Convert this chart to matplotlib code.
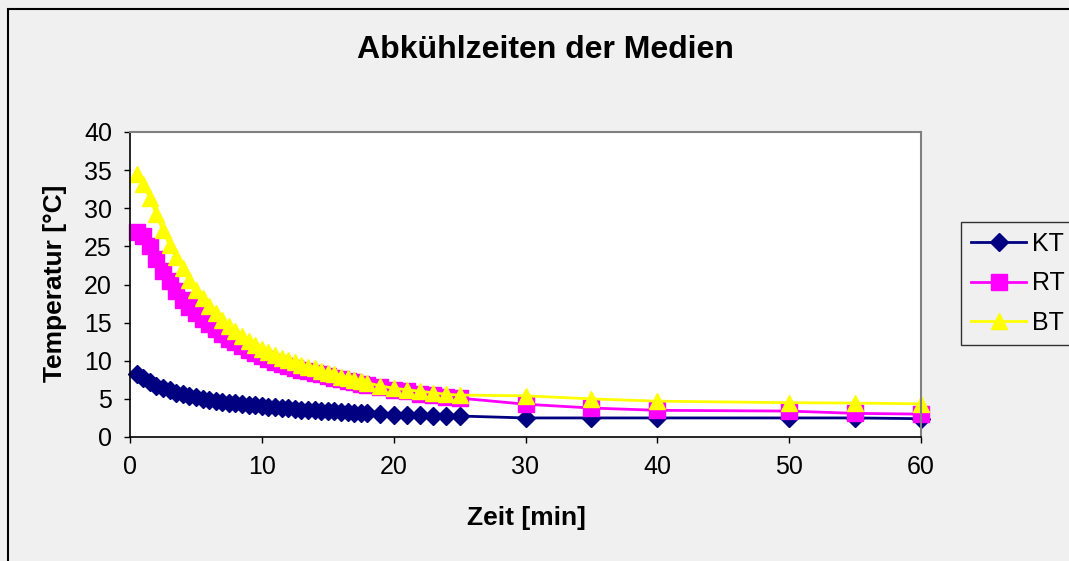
import numpy as np
import matplotlib.pyplot as plt
from matplotlib.patches import Rectangle

# time points [min]
zeit = [0.5, 1, 1.5, 2, 2.5, 3, 3.5, 4, 4.5, 5, 5.5, 6, 6.5, 7, 7.5, 8, 8.5, 9,
        9.5, 10, 10.5, 11, 11.5, 12, 12.5, 13, 13.5, 14, 14.5, 15, 15.5, 16,
        16.5, 17, 17.5, 18, 19, 20, 21, 22, 23, 24, 25, 30, 35, 40, 50, 55, 60]

kt = [8.2, 7.7, 7.2, 6.7, 6.4, 6.1, 5.8, 5.6, 5.4, 5.2, 5.0, 4.9, 4.75, 4.6, 4.5,
      4.4, 4.3, 4.2, 4.15, 4.05, 3.95, 3.9, 3.8, 3.75, 3.7, 3.6, 3.55, 3.5, 3.45,
      3.4, 3.35, 3.3, 3.25, 3.2, 3.15, 3.1, 3.0, 2.95, 2.9, 2.85, 2.8, 2.75, 2.75,
      2.5, 2.5, 2.5, 2.5, 2.5, 2.4]

rt = [26.9, 26.4, 25.1, 23.3, 21.8, 20.4, 19.2, 18.0, 17.1, 16.3, 15.5, 14.8,
      14.1, 13.5, 12.9, 12.4, 11.9, 11.4, 11.0, 10.6, 10.2, 9.9, 9.6, 9.3, 9.0,
      8.8, 8.6, 8.4, 8.2, 8.0, 7.8, 7.6, 7.4, 7.2, 7.0, 6.8, 6.5, 6.2, 6.0, 5.7,
      5.5, 5.3, 5.1, 4.3, 3.8, 3.5, 3.4, 3.1, 3.0]

bt = [34.5, 33.2, 31.3, 29.2, 27.1, 25.2, 23.6, 22.1, 20.6, 19.3, 18.2, 17.2,
      16.3, 15.4, 14.6, 13.9, 13.2, 12.6, 12.1, 11.6, 11.1, 10.7, 10.4, 10.1,
      9.8, 9.5, 9.2, 9.0, 8.7, 8.4, 8.2, 7.9, 7.7, 7.5, 7.3, 7.1, 6.7, 6.4, 6.2,
      6.0, 5.8, 5.6, 5.5, 5.4, 5.0, 4.7, 4.5, 4.45, 4.35]

plt.rcParams['font.family'] = ['Liberation Sans', 'DejaVu Sans']

W, H = 1069, 561
bg = '#f0f0f0'
fig = plt.figure(figsize=(W / 100, H / 100), dpi=100, facecolor=bg)

# outer chart frame (runs off the right and bottom edge)
fig.patches.append(Rectangle((8 / W, -0.1), 1.2, 1.1 - 9 / H, transform=fig.transFigure,
                             fill=False, edgecolor='black', linewidth=1.5))

ax = fig.add_axes([130 / W, 1 - 437 / H, (921 - 130) / W, (437 - 132) / H])
ax.set_facecolor('white')

ax.plot(zeit, kt, color='#000080', marker='D', markersize=9.5, lw=2, label='KT', clip_on=False)
ax.plot(zeit, rt, color='#ff00ff', marker='s', markersize=11, lw=2, label='RT', clip_on=False)
ax.plot(zeit, bt, color='#ffff00', marker='^', markersize=12, lw=2, label='BT', clip_on=False)

ax.set_xlim(0, 60)
ax.set_ylim(0, 40)
ax.set_xticks(np.arange(0, 61, 10))
ax.set_yticks(np.arange(0, 41, 5))
ax.tick_params(direction='out', length=4, width=1, labelsize=18, color='black')
ax.tick_params(axis='y', pad=9)
ax.tick_params(axis='x', pad=9)

for s in ['top', 'right']:
    ax.spines[s].set_color('#808080')
    ax.spines[s].set_linewidth(1.5)
for s in ['left', 'bottom']:
    ax.spines[s].set_color('black')
    ax.spines[s].set_linewidth(1.2)

fig.text(545 / W, 1 - 50 / H, 'Abkühlzeiten der Medien', fontsize=23, fontweight='bold',
         ha='center', va='center')
fig.text(526 / W, 1 - 518 / H, 'Zeit [min]', fontsize=19, fontweight='bold',
         ha='center', va='center')
fig.text(55 / W, 1 - 283 / H, 'Temperatur [°C]', fontsize=19, fontweight='bold',
         ha='center', va='center', rotation=90)

leg = fig.legend(loc='upper left', bbox_to_anchor=(961 / W, 1 - 222 / H), fontsize=18,
                 frameon=True, fancybox=False, handlelength=2.2, handletextpad=0.25,
                 labelspacing=0.62, borderpad=0.4, borderaxespad=0)
leg.get_frame().set_edgecolor('black')
leg.get_frame().set_facecolor(bg)
leg.get_frame().set_linewidth(1)

fig.savefig('out.png', dpi=100, facecolor=bg)
